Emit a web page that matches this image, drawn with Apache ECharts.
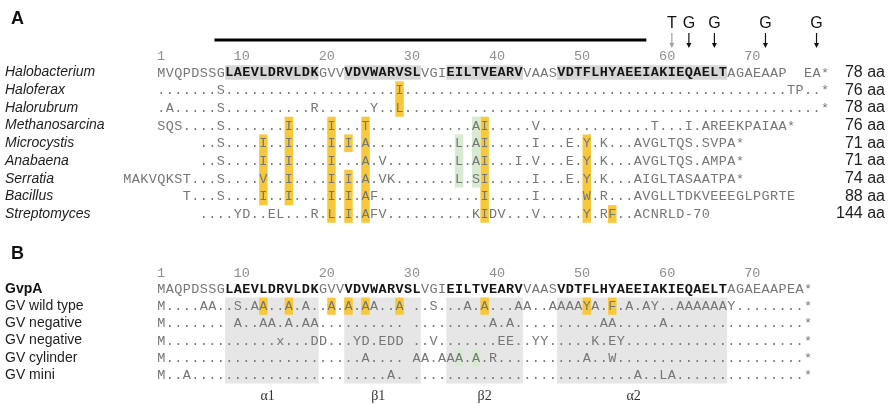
<!DOCTYPE html>
<html>
<head>
<meta charset="utf-8">
<script src="https://cdn.jsdelivr.net/npm/echarts@6/dist/echarts.min.js"></script>
<style>
  html, body { margin: 0; padding: 0; background: #fff; }
  #chart { width: 889px; height: 404px; }
</style>
</head>
<body>
<div id="chart"></div>
<script>
(function() {
  // ---- data ----
  const tickNums = [1, 10, 20, 30, 40, 50, 60, 70];

  const namesA = ['Halobacterium', 'Haloferax', 'Halorubrum', 'Methanosarcina', 'Microcystis',
    'Anabaena', 'Serratia', 'Bacillus', 'Streptomyces'];
  const lengthsA = ['78 aa', '76 aa', '78 aa', '76 aa', '71 aa', '71 aa', '74 aa', '88 aa', '144 aa'];
  const startA = [1, 1, 1, 1, 6, 6, -3, 4, 6];
  const seqA = [
    'MVQPDSSGLA' + 'EVLDRVLDKG' + 'VVVDVWARVS' + 'LVGIEILTVE' + 'ARVVAASVDT' + 'FLHYAEEIAK' + 'IEQAELTAGA' + 'EAAP  EA*',
    '.......S..' + '..........' + '........I.' + '..........' + '..........' + '..........' + '..........' + '....TP..*',
    '.A.....S..' + '........R.' + '.....Y..L.' + '..........' + '..........' + '..........' + '..........' + '........*',
    'SQS....S..' + '.....I....' + 'I...T.....' + '.......AI.' + '....V.....' + '........T.' + '..I.AREEKP' + 'AIAA*',
    '..S..' + '..I..I....' + 'I.I.A.....' + '.....L.AI.' + '....I...E.' + 'Y.K...AVGL' + 'TQS.SVPA*',
    '..S..' + '..I..I....' + 'I...A.V...' + '.....L.AI.' + '..I.V...E.' + 'Y.K...AVGL' + 'TQS.AMPA*',
    'MAKVQKST' + '...S..' + '..V..I....' + 'I.I.A.VK..' + '.....L.SI.' + '....I...E.' + 'Y.K...AIGL' + 'TASAATPA*',
    'T...S..' + '..I..I....' + 'I.I.AF....' + '........I.' + '....I.....' + 'W.R...AVGL' + 'LTDKVEEEGL' + 'PGRTE',
    '....Y' + 'D..EL...R.' + 'L.I.AFV...' + '.......KID' + 'V...V.....' + 'Y.RF..ACNR' + 'LD-70'
  ];
  const boldRanges = [[9, 19], [23, 31], [35, 43], [48, 67]];
  // [column, first row, last row]
  const yellowA = [[13, 4, 7], [16, 3, 7], [21, 3, 8], [23, 4, 4], [23, 6, 8], [25, 3, 8],
    [29, 1, 2], [39, 3, 8], [51, 4, 8], [54, 8, 8]];
  const greenA = [[36, 4, 6], [38, 3, 6]];

  const markerCols = [61, 63, 66, 72, 78];
  const markerLetters = ['T', 'G', 'G', 'G', 'G'];
  const barSpan = [7.25, 58];

  const namesB = ['GvpA', 'GV wild type', 'GV negative', 'GV negative', 'GV cylinder', 'GV mini'];
  const seqB = [
    'MAQPDSSGLA' + 'EVLDRVLDKG' + 'VVVDVWARVS' + 'LVGIEILTVE' + 'ARVVAASVDT' + 'FLHYAEEIAK' + 'IEQAELTAGA' + 'EAAPEA*',
    'M....AA..S' + '.AA..A.A..' + 'A.A.AA..A ' + '..S...A.A.' + '..AA..AAAA' + 'YA.F.A.AY.' + '.AAAAAAY..' + '......*',
    'M....... A' + '..AA.A.AA.' + '......... ' + '.........A' + '.A........' + '..AA.....A' + '..........' + '......*',
    'M.........' + '....x...DD' + '...YD.EDD ' + '..V.......' + 'EE..YY....' + '.K.EY.....' + '..........' + '......*',
    'M.........' + '..........' + '....A.... ' + 'AA.AAA.A.R' + '..........' + 'A..W......' + '..........' + '......*',
    'M..A......' + '..........' + '.......A. ' + '..........' + '..........' + '......A..L' + 'A.........' + '......*'
  ];
  const yellowB = [[13, 1, 1], [16, 1, 1], [21, 1, 1], [23, 1, 1], [25, 1, 1], [29, 1, 1],
    [39, 1, 1], [51, 1, 1], [54, 1, 1]];
  const greenB = [[36, 4, 4], [38, 4, 4]];
  const domainNames = ['\u03b11', '\u03b21', '\u03b22', '\u03b12'];
  const domainLabelCols = [13.5, 26.5, 39, 56.5];

  // ---- layout ----
  const colMin = -4, colMax = 79;
  const xMin = colMin - 0.5, xMax = colMax + 0.5;
  const colPx = 8.51;
  const seqLeft = 157;
  const gridLeft = seqLeft + (xMin - 0.5) * colPx;
  const gridWidth = (xMax - xMin) * colPx;
  const rowA = 17.69, rowA0 = 72.5;
  const rowB = 17.2, rowB0 = 289;

  const seqFont = 'Liberation Mono';
  const sansFont = 'Liberation Sans';
  const GRAY = '#767676';
  const DARK = '#151515';

  function buildCells(seqs, starts) {
    const cells = [];
    seqs.forEach((s, r) => {
      for (let i = 0; i < s.length; i++) {
        const ch = s[i];
        if (ch === ' ') continue;
        const col = starts[r] + i;
        const bold = r === 0 && boldRanges.some(([a, b]) => col >= a && col <= b);
        cells.push({ col: col, row: r, ch: ch, bold: bold });
      }
    });
    return cells;
  }

  const cellsA = buildCells(seqA, startA);
  const cellsB = buildCells(seqB, seqB.map(() => 1));

  function textSeries(cells, xi, yi) {
    return {
      type: 'custom', xAxisIndex: xi, yAxisIndex: yi, z: 5, silent: true,
      data: cells.map(c => [c.col, c.row]),
      renderItem(params, api) {
        const c = cells[params.dataIndex];
        const p = api.coord([api.value(0), api.value(1)]);
        return {
          type: 'text', x: p[0], y: p[1] + 0.5,
          style: {
            text: c.ch, align: 'center', verticalAlign: 'middle',
            fontFamily: seqFont, fontSize: 13.5,
            fontWeight: c.bold ? 'bold' : 'normal',
            fill: c.bold ? DARK : GRAY
          }
        };
      }
    };
  }

  function cellBoxSeries(list, color, xi, yi) {
    return {
      type: 'custom', xAxisIndex: xi, yAxisIndex: yi, z: 3, silent: true,
      data: list,
      renderItem(params, api) {
        const a = api.coord([api.value(0), api.value(1)]);
        const b = api.coord([api.value(0), api.value(2)]);
        const sz = api.size([1, 1]);
        return {
          type: 'rect',
          shape: { x: a[0] - sz[0] / 2, y: a[1] - sz[1] / 2, width: sz[0], height: b[1] - a[1] + sz[1] },
          style: { fill: color }
        };
      }
    };
  }

  // range boxes: [firstCol, lastCol, firstRow, lastRow], frac = share of row height
  function rangeBoxSeries(list, color, frac, xi, yi) {
    return {
      type: 'custom', xAxisIndex: xi, yAxisIndex: yi, z: 2, silent: true,
      data: list,
      renderItem(params, api) {
        const a = api.coord([api.value(0), api.value(2)]);
        const b = api.coord([api.value(1), api.value(3)]);
        const sz = api.size([1, 1]);
        const pad = sz[1] * frac / 2;
        return {
          type: 'rect',
          shape: { x: a[0] - sz[0] / 2, y: a[1] - pad, width: b[0] - a[0] + sz[0], height: b[1] - a[1] + 2 * pad },
          style: { fill: color }
        };
      }
    };
  }

  const hidden = { show: false };
  function numAxis(gi, margin) {
    return {
      gridIndex: gi, type: 'value', min: xMin, max: xMax, position: 'top',
      axisLine: hidden, axisTick: hidden, splitLine: hidden,
      axisLabel: {
        customValues: tickNums.map(n => n - 0.5),
        formatter: v => String(Math.round(v + 0.5)),
        align: 'left', margin: margin,
        fontFamily: seqFont, fontSize: 13.5, color: '#8f8f8f'
      }
    };
  }
  function nameAxis(gi, names, italic) {
    return {
      gridIndex: gi, type: 'category', data: names, inverse: true,
      axisLine: hidden, axisTick: hidden, splitLine: hidden,
      axisLabel: {
        interval: 0, align: 'left', margin: gridLeft - 5,
        fontFamily: sansFont, fontSize: 14, fontStyle: italic ? 'italic' : 'normal', color: '#1e1e1e',
        formatter: (v, i) => (!italic && i === 0) ? '{b|' + v + '}' : v,
        rich: { b: { fontFamily: sansFont, fontSize: 14, fontWeight: 'bold', color: '#111' } }
      }
    };
  }

  const option = {
    animation: false,
    backgroundColor: '#fff',
    title: [
      { text: 'A', left: 6, top: 5, textStyle: { fontFamily: sansFont, fontSize: 18, fontWeight: 'bold', color: '#111' } },
      { text: 'B', left: 6, top: 240, textStyle: { fontFamily: sansFont, fontSize: 18, fontWeight: 'bold', color: '#111' } }
    ],
    grid: [
      { left: gridLeft, width: gridWidth, top: rowA0 - rowA / 2, height: rowA * namesA.length, outerBoundsMode: 'none' },
      { left: gridLeft, width: gridWidth, top: rowB0 - rowB / 2, height: rowB * namesB.length, outerBoundsMode: 'none' },
      { left: gridLeft, width: gridWidth, top: 20, height: 20, outerBoundsMode: 'none' }
    ],
    xAxis: [
      numAxis(0, 0),
      numAxis(1, 0),
      {
        gridIndex: 1, type: 'value', min: xMin, max: xMax, position: 'bottom',
        axisLine: hidden, axisTick: hidden, splitLine: hidden,
        axisLabel: {
          customValues: domainLabelCols,
          formatter: v => domainNames[domainLabelCols.indexOf(v)],
          margin: 6, fontFamily: 'Liberation Serif', fontSize: 14, color: '#333'
        }
      },
      { gridIndex: 2, type: 'value', min: xMin, max: xMax, show: false }
    ],
    yAxis: [
      nameAxis(0, namesA, true),
      {
        gridIndex: 0, type: 'category', data: lengthsA, inverse: true, position: 'right',
        axisLine: hidden, axisTick: hidden, splitLine: hidden,
        axisLabel: { interval: 0, align: 'right', margin: 885 - (gridLeft + gridWidth),
          fontFamily: sansFont, fontSize: 16, color: '#1e1e1e' }
      },
      nameAxis(1, namesB, false),
      { gridIndex: 2, type: 'value', min: 0, max: 1, show: false }
    ],
    series: [
      rangeBoxSeries(boldRanges.map(([a, b]) => [a, b, 0, 0]), '#d6d6d6', 0.82, 0, 0),
      cellBoxSeries(yellowA, '#f8c83c', 0, 0),
      cellBoxSeries(greenA, '#d8ebd2', 0, 0),
      textSeries(cellsA, 0, 0),

      rangeBoxSeries(boldRanges.map(([a, b]) => [a, b, 1, namesB.length - 1]), '#e6e6e6', 1, 1, 2),
      cellBoxSeries(yellowB, '#f8c83c', 1, 2),
      cellBoxSeries(greenB, '#d8ebd2', 1, 2),
      textSeries(cellsB, 1, 2),

      {
        type: 'custom', xAxisIndex: 3, yAxisIndex: 3, silent: true,
        data: [[barSpan[0], barSpan[1]]],
        renderItem(params, api) {
          const a = api.coord([api.value(0), 0]);
          const b = api.coord([api.value(1), 0]);
          return { type: 'line', shape: { x1: a[0], y1: a[1], x2: b[0], y2: b[1] },
            style: { stroke: '#000', lineWidth: 3 } };
        }
      },
      {
        type: 'custom', xAxisIndex: 3, yAxisIndex: 3, silent: true,
        data: markerCols.map(c => [c, 0]),
        renderItem(params, api) {
          const p = api.coord([api.value(0), api.value(1)]);
          const shade = params.dataIndex === 0 ? '#a0a0a0' : '#111';
          return {
            type: 'group',
            children: [
              { type: 'text', x: p[0], y: p[1] - 16,
                style: { text: markerLetters[params.dataIndex], align: 'center', verticalAlign: 'middle',
                  fontFamily: sansFont, fontSize: 16, fill: '#111' } },
              { type: 'line', shape: { x1: p[0], y1: p[1] - 7, x2: p[0], y2: p[1] + 4 },
                style: { stroke: shade, lineWidth: 1.2 } },
              { type: 'polygon', shape: { points: [[p[0] - 2.5, p[1] + 3], [p[0] + 2.5, p[1] + 3], [p[0], p[1] + 8]] },
                style: { fill: shade } }
            ]
          };
        }
      }
    ]
  };

  const chart = echarts.init(document.getElementById('chart'));
  chart.setOption(option);
}());
</script>
</body>
</html>
